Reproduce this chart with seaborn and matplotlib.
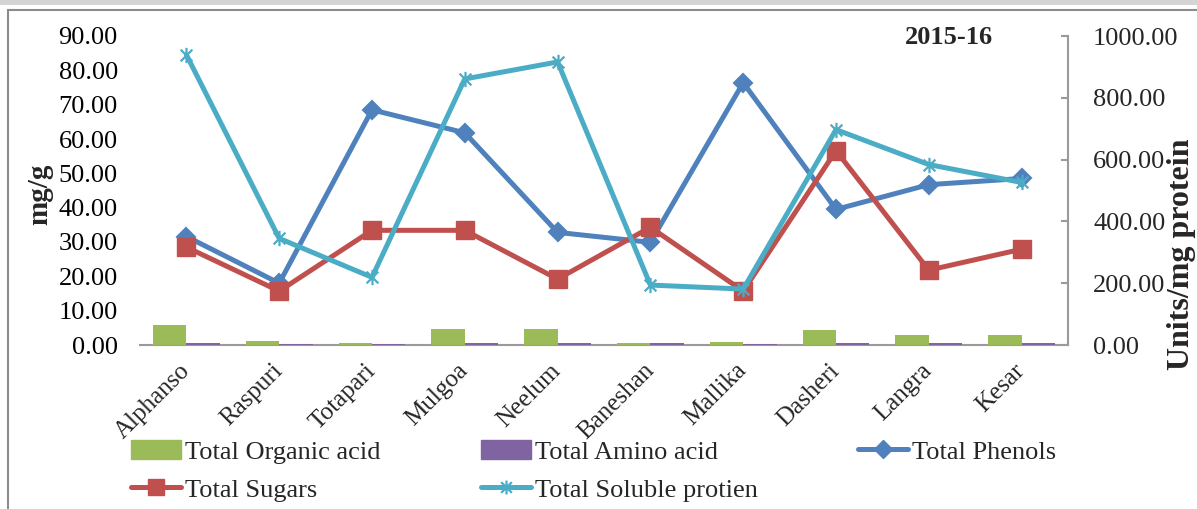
"""Mango varieties 2015-16: organic acid, amino acid, phenols, sugars and soluble protein."""

import numpy as np
import pandas as pd
import matplotlib

matplotlib.use("Agg")
import matplotlib.pyplot as plt
import matplotlib.patches as mpatches
from matplotlib.lines import Line2D
from matplotlib.path import Path
import seaborn as sns

# values
varieties = ["Alphanso", "Raspuri", "Totapari", "Mulgoa", "Neelum",
             "Baneshan", "Mallika", "Dasheri", "Langra", "Kesar"]
organic_acid = [5.7, 1.2, 0.7, 4.8, 4.7, 0.7, 0.8, 4.5, 3.0, 2.9]
amino_acid = [0.5, 0.2, 0.2, 0.5, 0.5, 0.5, 0.2, 0.5, 0.5, 0.5]
phenols = [31.6, 18.0, 68.5, 61.8, 32.8, 29.9, 76.4, 39.5, 46.7, 48.5]
sugars = [28.5, 15.7, 33.4, 33.4, 19.2, 34.3, 15.7, 56.6, 21.8, 27.9]
soluble_protein = [939, 345, 219, 861, 916, 194, 181, 697, 584, 526]

left_ticks = np.arange(0, 91, 10)
right_ticks = np.arange(0, 1001, 200)

GREEN = "#9BBB59"
PURPLE = "#8064A2"
BLUE = "#4F81BD"
RED = "#C0504D"
TEAL = "#4BACC6"
AXIS_GRAY = "#9a9a9a"

sns.set_theme(style="white")
plt.rcParams["font.family"] = ["Liberation Serif", "DejaVu Serif"]

# Excel style star marker: an x with a vertical bar
star = Path(
    [(-1, -1), (1, 1), (-1, 1), (1, -1), (0, -1.3), (0, 1.3)],
    [Path.MOVETO, Path.LINETO, Path.MOVETO, Path.LINETO, Path.MOVETO, Path.LINETO],
)

W, H = 1197, 509
fig = plt.figure(figsize=(W / 100, H / 100), dpi=100)

# grey strip and chart frame from the page
fig.patches.append(mpatches.Rectangle((0, 1 - 5 / H), 1, 5 / H, transform=fig.transFigure,
                                      facecolor="#d4d4d4", edgecolor="none", zorder=0))
fig.patches.append(mpatches.Rectangle((8 / W, -0.05), 1.0, 1.05 - 10 / H, transform=fig.transFigure,
                                      facecolor="none", edgecolor="#8c8c8c", linewidth=1.5, zorder=0))

ax = fig.add_axes([140 / W, 164 / H, 928 / W, 309 / H])
ax.set_facecolor("none")

bars = pd.DataFrame({
    "variety": varieties * 2,
    "value": organic_acid + amino_acid,
    "measure": ["Total Organic acid"] * len(varieties) + ["Total Amino acid"] * len(varieties),
})
sns.barplot(data=bars, x="variety", y="value", hue="measure", palette=[GREEN, PURPLE],
            width=0.72, saturation=1, linewidth=0, legend=False, ax=ax)

sns.pointplot(x=varieties, y=phenols, color=BLUE, marker="D", markersize=9,
              markeredgewidth=1.5, linewidth=3.6, errorbar=None, ax=ax)
sns.pointplot(x=varieties, y=sugars, color=RED, marker="s", markersize=13,
              markeredgewidth=1, linewidth=3.6, errorbar=None, ax=ax)

ax2 = ax.twinx()
sns.pointplot(x=varieties, y=soluble_protein, color=TEAL, marker=star, markersize=11,
              markeredgewidth=1.6, markeredgecolor=TEAL, linewidth=3.6, errorbar=None, ax=ax2)

ax.set_xlim(-0.5, len(varieties) - 0.5)
ax.set_ylim(0, 90)
ax.set_yticks(left_ticks)
ax.set_yticklabels([f"{v:.2f}" for v in left_ticks], fontsize=19)
ax2.set_ylim(0, 1000)
ax2.set_yticks(right_ticks)
ax2.set_yticklabels([f"{v:.2f}" for v in right_ticks], fontsize=19)

for side in ["left", "top", "right"]:
    ax.spines[side].set_visible(False)
ax.spines["bottom"].set_color(AXIS_GRAY)
ax.spines["bottom"].set_linewidth(1.5)
ax.spines["bottom"].set_zorder(0.5)
for side in ["left", "top", "bottom"]:
    ax2.spines[side].set_visible(False)
ax2.spines["right"].set_color(AXIS_GRAY)
ax2.spines["right"].set_linewidth(1.5)

ax.tick_params(axis="y", length=0, pad=16, colors="black")
ax.tick_params(axis="x", length=0, pad=16)
ax2.tick_params(axis="y", direction="in", length=5, width=1.5, color=AXIS_GRAY, pad=18)
ax.set_xlabel("")
ax.set_ylabel("")
ax2.set_xlabel("")
ax2.set_ylabel("")

ax.set_xticks(range(len(varieties)))
ax.set_xticklabels(varieties, rotation=45, ha="right", va="center",
                   rotation_mode="anchor", fontsize=18)

fig.text(40 / W, 1 - 194 / H, "mg/g", rotation=90, ha="center", va="center",
         fontsize=21, fontweight="bold")
fig.text(1182 / W, 1 - 254 / H, "Units/mg protein", rotation=90, ha="center", va="center",
         fontsize=23, fontweight="bold")

ax.text(0.872, 0.994, "2015-16", transform=ax.transAxes, ha="center", va="center",
        fontsize=19, fontweight="bold")

handles = [
    mpatches.Patch(color=GREEN, label="Total Organic acid"),
    Line2D([], [], color=RED, marker="s", markersize=12, linewidth=3.6, label="Total Sugars"),
    mpatches.Patch(color=PURPLE, label="Total Amino acid"),
    Line2D([], [], color=TEAL, marker=star, markersize=10, markeredgewidth=1.6,
           markeredgecolor=TEAL, linewidth=3.6, label="Total Soluble protien"),
    Line2D([], [], color=BLUE, marker="D", markersize=9, linewidth=3.6, label="Total Phenols"),
]
fig.legend(handles=handles, ncol=3, loc="upper left", bbox_to_anchor=(118 / W, 1 - 427 / H),
           frameon=False, fontsize=19, borderpad=0, handlelength=1.9, handleheight=0.7,
           handletextpad=0.15, columnspacing=3.8, labelspacing=0.55)

fig.savefig("out.png", dpi=100)
